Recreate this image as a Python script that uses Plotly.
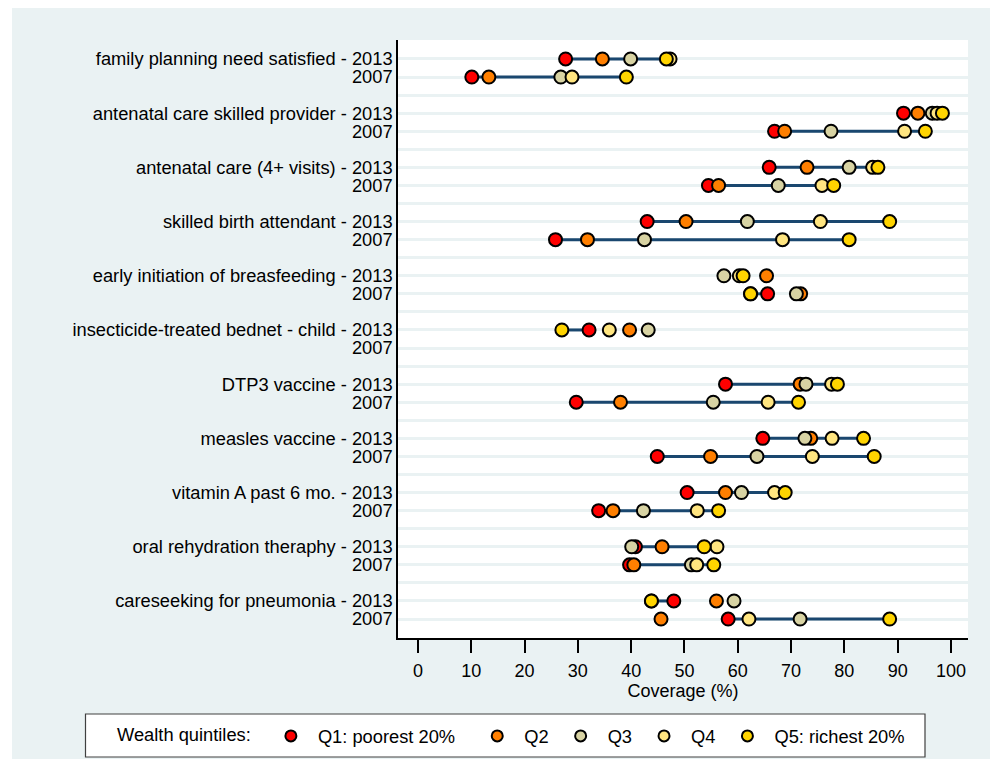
import plotly.graph_objects as go

indicators = [
    "family planning need satisfied",
    "antenatal care skilled provider",
    "antenatal care (4+ visits)",
    "skilled birth attendant",
    "early initiation of breasfeeding",
    "insecticide-treated bednet - child",
    "DTP3 vaccine",
    "measles vaccine",
    "vitamin A past 6 mo.",
    "oral rehydration theraphy",
    "careseeking for pneumonia",
]
years = ["2013", "2007"]

quintile_names = ["Q1: poorest 20%", "Q2", "Q3", "Q4", "Q5: richest 20%"]
quintile_colors = ["#FF0000", "#FF7F00", "#D8D3A3", "#FFE580", "#FFD400"]

# values per indicator: 2013 then 2007, each [Q1, Q2, Q3, Q4, Q5]
fp_2013 = [27.7, 34.6, 39.9, 47.3, 46.6]
fp_2007 = [10.1, 13.3, 26.8, 28.9, 39.1]
ancsk_2013 = [91.1, 93.8, 96.5, 97.4, 98.4]
ancsk_2007 = [66.9, 68.8, 77.5, 91.3, 95.2]
anc4_2013 = [65.9, 73.0, 80.9, 85.3, 86.3]
anc4_2007 = [54.5, 56.4, 67.6, 75.8, 78.0]
sba_2013 = [43.0, 50.3, 61.8, 75.5, 88.5]
sba_2007 = [25.8, 31.8, 42.5, 68.4, 80.9]
eibf_2013 = [None, 65.4, 57.4, 60.3, 61.0]
eibf_2007 = [65.6, 71.8, 71.0, 62.4, 62.4]
itn_2013 = [32.1, 39.7, 43.2, 35.9, 27.0]
itn_2007 = [None, None, None, None, None]
dtp3_2013 = [57.7, 71.7, 72.8, 77.6, 78.7]
dtp3_2007 = [29.7, 38.0, 55.4, 65.7, 71.4]
meas_2013 = [64.7, 73.7, 72.6, 77.7, 83.6]
meas_2007 = [44.9, 54.9, 63.6, 74.0, 85.6]
vita_2013 = [50.5, 57.7, 60.7, 66.9, 68.9]
vita_2007 = [33.9, 36.6, 42.3, 52.4, 56.4]
ors_2013 = [40.8, 45.8, 40.1, 56.1, 53.7]
ors_2007 = [39.7, 40.5, 51.3, 52.3, 55.5]
pneu_2013 = [48.0, 56.0, 59.3, 43.8, 43.8]
pneu_2007 = [58.2, 45.6, 71.7, 62.1, 88.5]

rows = [
    fp_2013, fp_2007, ancsk_2013, ancsk_2007, anc4_2013, anc4_2007,
    sba_2013, sba_2007, eibf_2013, eibf_2007, itn_2013, itn_2007,
    dtp3_2013, dtp3_2007, meas_2013, meas_2007, vita_2013, vita_2007,
    ors_2013, ors_2007, pneu_2013, pneu_2007,
]

FONT = "Liberation Sans, Arial, sans-serif"
NB = "\u00a0"

# slot positions: each indicator takes 3 slots (2013, 2007, blank)
row_pos = []
tickvals = []
ticktext = []
for i, name in enumerate(indicators):
    base = i * 3
    row_pos += [base, base + 1]
    tickvals += [base, base + 1]
    ticktext += [f"{name} - {years[0]}", years[1]]
    if i < len(indicators) - 1:
        tickvals.append(base + 2)
        ticktext.append("")

fig = go.Figure()

# connecting lines Q1 -> Q5
lx, ly = [], []
for pos, vals in zip(row_pos, rows):
    if vals[0] is not None and vals[4] is not None:
        lx += [vals[0], vals[4], None]
        ly += [pos, pos, None]
fig.add_trace(go.Scatter(x=lx, y=ly, mode="lines",
                         line=dict(color="#1a476f", width=3),
                         showlegend=False, hoverinfo="skip"))

for q in range(5):
    xs, ys = [], []
    for pos, vals in zip(row_pos, rows):
        if vals[q] is not None:
            xs.append(vals[q])
            ys.append(pos)
    fig.add_trace(go.Scatter(
        x=xs, y=ys, mode="markers", name=quintile_names[q], showlegend=False,
        marker=dict(size=13, color=quintile_colors[q],
                    line=dict(color="black", width=2)),
    ))

pads = [2, 0, 0, 0, 0]
for q in range(5):
    fig.add_trace(go.Scatter(
        x=[None], y=[None], mode="markers",
        name=quintile_names[q] + NB * pads[q],
        marker=dict(size=11, color=quintile_colors[q],
                    line=dict(color="black", width=2)),
    ))

# page body has an 8px margin: work in reference pixels minus 8
OFF = 8
W, H = 999 - OFF, 759 - OFF
L, R, T, B = 398 - OFF, 968 - OFF, 40 - OFF, 638 - OFF
def px(p):
    return (p - OFF - L) / (R - L)
def py(p):
    return (B - (p - OFF)) / (B - T)

fig.update_layout(
    width=W, height=H,
    margin=dict(l=L, r=W - R, t=T, b=H - B, pad=0, autoexpand=False),
    paper_bgcolor="white",
    plot_bgcolor="rgba(0,0,0,0)",
    font=dict(family=FONT, size=18, color="black"),
    shapes=[
        dict(type="rect", xref="paper", yref="paper", layer="below",
             x0=px(12), x1=px(990), y0=py(770), y1=py(8),
             fillcolor="#EAF2F3", line=dict(width=0)),
        dict(type="rect", xref="paper", yref="paper", layer="below",
             x0=0, x1=1, y0=0, y1=1,
             fillcolor="white", line=dict(width=0)),
        dict(type="rect", xref="paper", yref="paper", layer="below",
             x0=px(85.5), x1=px(925), y0=py(757), y1=py(714),
             fillcolor="white", line=dict(color="#404040", width=1.2)),
    ],
    xaxis=dict(
        range=[-3.75, 103.2], tickvals=list(range(0, 101, 10)),
        ticks="outside", ticklen=13, tickwidth=1.5, tickcolor="black",
        ticklabelstandoff=3,
        showline=True, linecolor="black", linewidth=1.5,
        showgrid=False, zeroline=False,
        title=dict(text="Coverage (%)", standoff=0, font=dict(size=18)),
        tickfont=dict(size=18),
    ),
    yaxis=dict(
        range=[32.05, -1.05], tickvals=tickvals, ticktext=ticktext,
        showline=True, linecolor="black", linewidth=1.5,
        showgrid=True, gridcolor="#EAF2F3", gridwidth=2.5,
        zeroline=False, ticks="", tickfont=dict(size=18.3),
    ),
    legend=dict(
        orientation="h", itemwidth=44,
        x=px(115), xanchor="left", y=py(736), yanchor="middle",
        bgcolor="rgba(0,0,0,0)", borderwidth=0,
        font=dict(size=18.3),
        title=dict(text="Wealth quintiles:" + NB, side="left",
                   font=dict(size=18.3)),
    ),
)

fig.write_html("out.html")
